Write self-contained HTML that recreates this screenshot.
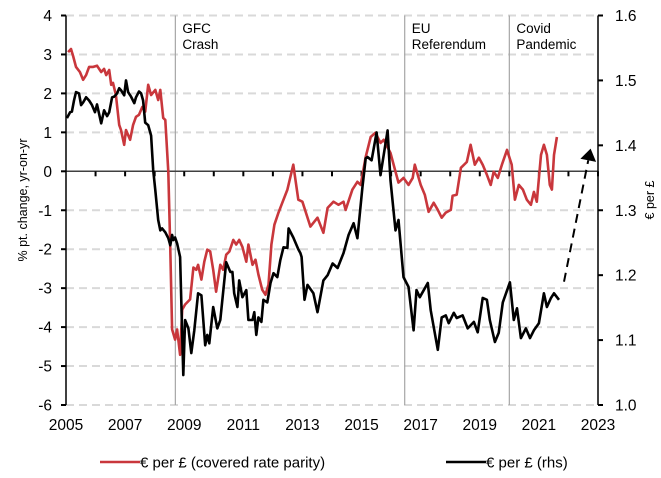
<!DOCTYPE html>
<html><head><meta charset="utf-8"><style>
html,body{margin:0;padding:0;background:#fff;}
svg{display:block;font-family:"Liberation Sans",Arial,sans-serif;}
</style></head><body>
<svg id="chart" width="661" height="478" viewBox="0 0 661 478" xmlns="http://www.w3.org/2000/svg"></svg>
<script>
const leftTicks=[4,3,2,1,0,-1,-2,-3,-4,-5,-6];
const rightTicks=[1.6,1.5,1.4,1.3,1.2,1.1,1.0];
const yearLabels=[2005,2007,2009,2011,2013,2015,2017,2019,2021,2023];
const events=[{t:2008.7,l1:"GFC",l2:"Crash"},{t:2016.46,l1:"EU",l2:"Referendum"},{t:2020.0,l1:"Covid",l2:"Pandemic"}];
const redDates=[0.07,0.17,0.24,0.34,0.47,0.58,0.68,0.78,0.92,1.05,1.19,1.29,1.36,1.46,1.53,1.59,1.69,1.80,1.86,1.97,2.03,2.17,2.27,2.37,2.47,2.58,2.68,2.78,2.88,3.02,3.12,3.19,3.29,3.36,3.46,3.53,3.59,3.69,3.76,3.86,3.93,4.03,4.20,4.31,4.41,4.47,4.58,4.68,4.78,4.88,4.98,5.08,5.22,5.32,5.42,5.53,5.66,5.76,5.86,5.97,6.10,6.17,6.31,6.41,6.51,6.64,6.75,6.85,6.95,7.05,7.19,7.29,7.49,7.69,7.86,8.00,8.27,8.51,8.71,8.85,9.05,9.22,9.39,9.46,9.69,9.86,9.97,10.14,10.31,10.47,10.64,10.75,10.98,11.15,11.25,11.42,11.59,11.73,11.80,12.00,12.14,12.27,12.44,12.58,12.71,12.85,13.02,13.08,13.22,13.36,13.56,13.69,13.83,13.97,14.10,14.24,14.37,14.47,14.61,14.75,14.92,15.08,15.19,15.32,15.46,15.59,15.73,15.83,15.93,16.07,16.17,16.27,16.37,16.44,16.51,16.61];
const redValues=[3.06,3.14,2.96,2.68,2.55,2.35,2.47,2.68,2.68,2.71,2.55,2.63,2.47,2.60,2.22,2.27,1.96,1.19,1.06,0.68,1.06,0.81,1.19,1.40,1.45,1.65,1.53,2.22,1.96,2.09,1.83,2.09,1.37,1.32,-0.01,-2.01,-4.06,-4.32,-4.06,-4.71,-3.55,-3.42,-3.29,-2.47,-2.53,-2.40,-2.78,-2.32,-2.01,-2.06,-2.53,-3.09,-2.40,-2.53,-2.14,-2.06,-1.76,-1.88,-1.76,-1.94,-2.32,-1.88,-2.40,-2.27,-2.65,-3.04,-3.17,-2.91,-1.88,-1.37,-1.06,-0.86,-0.47,0.17,-0.73,-0.78,-1.42,-1.19,-1.58,-0.94,-0.78,-0.86,-0.78,-0.99,-0.47,-0.27,-0.35,0.37,0.88,0.99,0.73,0.81,0.47,-0.01,-0.29,-0.17,-0.35,-0.17,0.17,-0.35,-0.60,-1.04,-0.81,-0.99,-1.19,-1.06,-0.99,-0.63,-0.60,0.09,0.24,0.68,0.17,0.35,0.17,-0.09,-0.35,-0.01,-0.17,0.17,0.55,0.17,-0.73,-0.35,-0.47,-0.73,-0.86,-0.53,-0.78,0.42,0.68,0.42,-0.35,-0.47,0.42,0.88];
const blackDates=[0.03,0.14,0.20,0.27,0.34,0.44,0.51,0.58,0.68,0.78,0.88,0.98,1.05,1.19,1.29,1.39,1.46,1.56,1.63,1.73,1.80,1.86,1.97,2.03,2.10,2.20,2.31,2.37,2.47,2.54,2.61,2.68,2.78,2.88,2.95,3.02,3.12,3.19,3.25,3.36,3.46,3.53,3.59,3.63,3.69,3.76,3.86,3.97,4.03,4.14,4.24,4.34,4.47,4.58,4.71,4.78,4.85,4.98,5.12,5.22,5.42,5.56,5.63,5.69,5.80,5.86,5.97,6.10,6.17,6.31,6.37,6.44,6.51,6.61,6.68,6.81,6.92,7.02,7.15,7.25,7.36,7.49,7.53,7.69,7.86,7.93,7.97,8.07,8.17,8.37,8.51,8.71,8.85,9.02,9.19,9.39,9.56,9.73,9.86,10.03,10.14,10.20,10.34,10.51,10.64,10.88,10.98,11.15,11.25,11.42,11.59,11.76,11.86,11.97,12.24,12.34,12.58,12.71,12.85,12.95,13.12,13.22,13.42,13.59,13.80,13.93,14.10,14.24,14.34,14.51,14.64,14.78,15.02,15.15,15.26,15.39,15.56,15.70,15.83,16.00,16.17,16.27,16.41,16.51,16.68];
const blackValues=[1.442,1.451,1.452,1.469,1.482,1.480,1.462,1.466,1.474,1.469,1.462,1.451,1.463,1.434,1.454,1.445,1.451,1.474,1.475,1.480,1.488,1.485,1.477,1.500,1.482,1.475,1.465,1.474,1.483,1.480,1.469,1.435,1.431,1.415,1.362,1.331,1.285,1.269,1.272,1.266,1.257,1.246,1.262,1.254,1.258,1.249,1.228,1.046,1.131,1.118,1.080,1.115,1.172,1.169,1.092,1.108,1.095,1.151,1.118,1.131,1.220,1.205,1.205,1.172,1.151,1.192,1.166,1.177,1.131,1.131,1.143,1.108,1.135,1.128,1.162,1.158,1.188,1.203,1.197,1.223,1.243,1.242,1.272,1.258,1.240,1.234,1.228,1.162,1.185,1.172,1.143,1.192,1.200,1.218,1.211,1.234,1.262,1.280,1.257,1.335,1.380,1.382,1.377,1.420,1.354,1.423,1.346,1.269,1.285,1.197,1.182,1.115,1.177,1.166,1.188,1.146,1.085,1.135,1.138,1.126,1.142,1.134,1.138,1.118,1.128,1.112,1.165,1.162,1.131,1.097,1.111,1.158,1.189,1.131,1.149,1.103,1.118,1.103,1.115,1.126,1.172,1.151,1.165,1.172,1.162];
const arrowFrom={t:2021.85,v:1.19};
const arrowTo={t:2022.75,v:1.395};

const X0=66,X1=598,Y0=15.5,Y1=405,T0=2005,T1=2023;
const xs=t=>X0+(t-T0)/(T1-T0)*(X1-X0);
const yl=v=>Y0+(4-v)/10*(Y1-Y0);
const yr=v=>Y0+(1.6-v)/0.6*(Y1-Y0);
const svg=document.getElementById('chart');
const NS='http://www.w3.org/2000/svg';
function mk(tag,attrs,parent){const e=document.createElementNS(NS,tag);for(const k in attrs)e.setAttribute(k,attrs[k]);(parent||svg).appendChild(e);return e;}

leftTicks.forEach(v=>{if(v===0)return;
 const g=mk('line',{x1:X0,x2:X1,y1:yl(v),y2:yl(v),stroke:'#d9d9d9','stroke-width':2,'stroke-dasharray':'8,5'});
 
 
});
events.forEach(ev=>{
 const x=xs(ev.t);
 const l=mk('line',{x1:x,x2:x,y1:Y0,y2:Y1,stroke:'#a6a6a6','stroke-width':1.2});
 
 
 [ev.l1,ev.l2].forEach((s,i)=>{
  const t=mk('text',{x:x+7,y:33+i*16,'font-size':13.5,fill:'#000'});t.textContent=s;
  
  
 });
});
const z=mk('line',{x1:X0,x2:X1,y1:yl(0),y2:yl(0),stroke:'#404040','stroke-width':1.5});


for(let yv=T0+1;yv<=T1;yv++){
 const tk=mk('line',{x1:xs(yv),x2:xs(yv),y1:yl(0),y2:yl(0)+5,stroke:'#000','stroke-width':2});
 
 
}
const la=mk('line',{x1:X0,x2:X0,y1:Y0,y2:Y1,stroke:'#000','stroke-width':1.5});


const ra=mk('line',{x1:X1,x2:X1,y1:Y0,y2:Y1,stroke:'#000','stroke-width':1.5});


leftTicks.forEach(v=>{
 const tk=mk('line',{x1:X0-5,x2:X0,y1:yl(v),y2:yl(v),stroke:'#000','stroke-width':2});
 
 
 const t=mk('text',{x:X0-14,y:yl(v)+5.5,'font-size':15.5,'text-anchor':'end',fill:'#000'});t.textContent=v;
 
 
});
rightTicks.forEach(v=>{
 const tk=mk('line',{x1:X1,x2:X1+5,y1:yr(v),y2:yr(v),stroke:'#000','stroke-width':2});
 
 
 const t=mk('text',{x:X1+17,y:yr(v)+5.5,'font-size':15.5,fill:'#000'});t.textContent=v.toFixed(1);
 
 
});
yearLabels.forEach(yv=>{
 const t=mk('text',{x:xs(yv),y:430,'font-size':15.5,'text-anchor':'middle',fill:'#000'});t.textContent=yv;
 
 
});
function path(dates,vals,ys){return dates.map((d,i)=>(i?'L':'M')+xs(T0+d).toFixed(1)+','+ys(vals[i]).toFixed(1)).join('');}
const rp=mk('path',{d:path(redDates,redValues,yl),fill:'none',stroke:'#c9373c','stroke-width':2.6,'stroke-linejoin':'round'});


const bp=mk('path',{d:path(blackDates,blackValues,yr),fill:'none',stroke:'#000','stroke-width':2.6,'stroke-linejoin':'round'});


const ax1=xs(arrowFrom.t),ay1=yr(arrowFrom.v),ax2=xs(arrowTo.t),ay2=yr(arrowTo.v);
const ang=Math.atan2(ay2-ay1,ax2-ax1);
const bx=ax2-12*Math.cos(ang),by=ay2-12*Math.sin(ang);
const ar=mk('line',{x1:ax1,y1:ay1,x2:bx,y2:by,stroke:'#000','stroke-width':2,'stroke-dasharray':'9,6'});


const px=-Math.sin(ang)*8,py=Math.cos(ang)*8;
const ah=mk('polygon',{points:`${ax2},${ay2} ${bx+px},${by+py} ${bx-px},${by-py}`,fill:'#000'});


const lt=mk('text',{x:0,y:0,'font-size':12.5,'text-anchor':'middle',transform:'translate(27,200) rotate(-90)'});lt.textContent='% pt. change, yr-on-yr';


const rt=mk('text',{x:0,y:0,'font-size':12.5,'text-anchor':'middle',transform:'translate(654,200) rotate(-90)'});rt.textContent='€ per £';


const l1=mk('line',{x1:100,x2:140,y1:462,y2:462,stroke:'#c9373c','stroke-width':2.6});


const t1=mk('text',{x:140,y:467.5,'font-size':15});t1.textContent='€ per £ (covered rate parity)';


const l2=mk('line',{x1:446,x2:486,y1:462,y2:462,stroke:'#000','stroke-width':2.6});


const t2=mk('text',{x:486,y:467.5,'font-size':15});t2.textContent='€ per £ (rhs)';


</script>
</body></html>
